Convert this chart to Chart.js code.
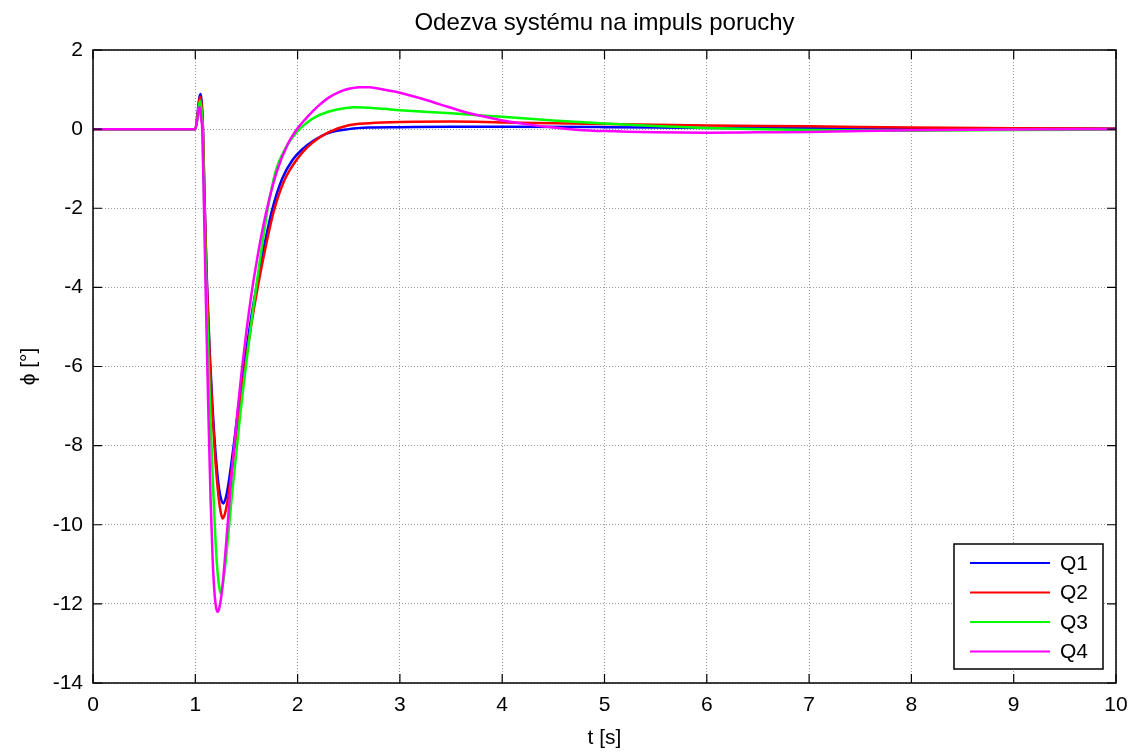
<!DOCTYPE html>
<html>
<head>
<meta charset="utf-8">
<script src="https://cdn.jsdelivr.net/npm/chart.js@4.4.0/dist/chart.umd.min.js"></script>
<style>
  html, body { margin: 0; padding: 0; background: #fff; }
  #wrap { width: 1138px; height: 753px; }
</style>
</head>
<body>
<div id="wrap"><canvas id="graf"></canvas></div>
<script>
// Odezva systému (čas [s], úhel [°])
const q1T = [0, 1.0, 1.02, 1.04, 1.053, 1.065, 1.075, 1.09, 1.11, 1.14, 1.17, 1.2, 1.23, 1.255, 1.275, 1.3, 1.325, 1.35, 1.38, 1.42, 1.46, 1.5, 1.55, 1.6, 1.67, 1.75, 1.85, 1.95, 2.05, 2.15, 2.3, 2.5, 2.7, 3, 3.5, 4, 5, 6, 7, 8, 9, 10];
const q1V = [0, 0, 0.35, 0.8, 0.89, 0.6, 0, -1.7, -3.6, -5.6, -7.1, -8.25, -9.05, -9.38, -9.46, -9.3, -8.95, -8.5, -7.9, -7.05, -6.3, -5.55, -4.7, -3.95, -3.0, -2.05, -1.25, -0.78, -0.5, -0.3, -0.1, 0, 0.04, 0.05, 0.06, 0.06, 0.05, 0.03, 0.02, 0.01, 0.01, 0.01];

const q2T = [0, 1.0, 1.02, 1.04, 1.052, 1.064, 1.075, 1.09, 1.11, 1.14, 1.17, 1.2, 1.23, 1.25, 1.268, 1.29, 1.315, 1.34, 1.37, 1.41, 1.45, 1.5, 1.55, 1.61, 1.69, 1.77, 1.87, 1.97, 2.05, 2.15, 2.3, 2.5, 2.7, 3, 3.5, 4, 5, 6, 7, 8, 9, 10];
const q2V = [0, 0, 0.3, 0.75, 0.82, 0.5, 0, -1.8, -3.7, -5.75, -7.3, -8.5, -9.35, -9.7, -9.84, -9.72, -9.4, -8.95, -8.35, -7.5, -6.7, -5.75, -4.9, -4.0, -2.95, -2.05, -1.3, -0.85, -0.58, -0.33, -0.08, 0.1, 0.15, 0.18, 0.19, 0.17, 0.13, 0.09, 0.07, 0.04, 0.02, 0.01];

const q3T = [0, 1.0, 1.02, 1.04, 1.05, 1.062, 1.072, 1.088, 1.11, 1.13, 1.15, 1.17, 1.19, 1.21, 1.23, 1.248, 1.27, 1.3, 1.33, 1.36, 1.4, 1.44, 1.48, 1.52, 1.56, 1.605, 1.655, 1.705, 1.75, 1.8, 1.9, 2.0, 2.1, 2.2, 2.3, 2.4, 2.55, 2.8, 3, 3.5, 4, 4.5, 5, 5.5, 6, 7, 8, 9, 10];
const q3V = [0, 0, 0.25, 0.65, 0.72, 0.45, 0, -2, -4.2, -5.9, -7.4, -8.8, -10.0, -10.95, -11.5, -11.74, -11.5, -10.85, -10.05, -9.2, -8.2, -7.2, -6.3, -5.45, -4.65, -3.8, -2.9, -2.05, -1.45, -0.95, -0.4, -0.05, 0.18, 0.34, 0.44, 0.5, 0.55, 0.52, 0.48, 0.4, 0.31, 0.22, 0.14, 0.08, 0.03, -0.02, -0.04, -0.02, -0.01];

const q4T = [0, 1.0, 1.02, 1.04, 1.05, 1.06, 1.068, 1.085, 1.1, 1.115, 1.13, 1.15, 1.17, 1.19, 1.205, 1.219, 1.235, 1.255, 1.28, 1.31, 1.34, 1.37, 1.41, 1.45, 1.5, 1.55, 1.6, 1.66, 1.725, 1.8, 1.9, 2.0, 2.1, 2.2, 2.3, 2.4, 2.5, 2.6, 2.7, 2.8, 3.0, 3.2, 3.4, 3.6, 3.8, 4.0, 4.25, 4.5, 4.75, 5, 5.5, 6, 6.5, 7, 8, 9, 10];
const q4V = [0, 0, 0.25, 0.55, 0.5, 0.2, 0, -2, -3.9, -5.7, -7.4, -9.4, -10.9, -11.8, -12.12, -12.2, -12.1, -11.8, -11.15, -10.2, -9.2, -8.3, -7.2, -6.2, -5.1, -4.15, -3.35, -2.5, -1.75, -1.05, -0.4, 0.02, 0.32, 0.58, 0.79, 0.93, 1.02, 1.06, 1.06, 1.02, 0.92, 0.78, 0.62, 0.46, 0.33, 0.22, 0.12, 0.04, -0.02, -0.05, -0.08, -0.09, -0.08, -0.07, -0.03, -0.01, 0];

const nazvy = ['Q1', 'Q2', 'Q3', 'Q4'];
const barvy = ['#0000ff', '#ff0000', '#00ff00', '#ff00ff'];

const xTicks = [0, 1, 2, 3, 4, 5, 6, 7, 8, 9, 10];
const yTicks = [2, 0, -2, -4, -6, -8, -10, -12, -14];

const FONT = 'Liberation Sans, Arial, sans-serif';

function body(t, v) {
  return t.map((x, i) => ({ x: x, y: v[i] }));
}

// rámeček os + ticky dovnitř (styl MATLAB)
const ramecek = {
  id: 'ramecek',
  afterDatasetsDraw(chart) {
    const { ctx, chartArea: a, scales } = chart;
    ctx.save();
    ctx.setLineDash([]);
    ctx.strokeStyle = '#000';
    ctx.lineWidth = 1.5;
    ctx.strokeRect(a.left, a.top, a.right - a.left, a.bottom - a.top);
    ctx.lineWidth = 1.2;
    const len = 9;
    ctx.beginPath();
    xTicks.forEach(t => {
      const px = scales.x.getPixelForValue(t);
      ctx.moveTo(px, a.bottom); ctx.lineTo(px, a.bottom - len);
      ctx.moveTo(px, a.top); ctx.lineTo(px, a.top + len);
    });
    yTicks.forEach(t => {
      const py = scales.y.getPixelForValue(t);
      ctx.moveTo(a.left, py); ctx.lineTo(a.left + len, py);
      ctx.moveTo(a.right, py); ctx.lineTo(a.right - len, py);
    });
    ctx.stroke();
    ctx.restore();
  },
  afterDraw(chart) {
    // legenda vpravo dole
    const { ctx, chartArea: a } = chart;
    const w = 149, h = 125;
    const x0 = a.right - 13 - w, y0 = a.bottom - 14 - h;
    ctx.save();
    ctx.fillStyle = '#fff';
    ctx.fillRect(x0, y0, w, h);
    ctx.strokeStyle = '#000';
    ctx.lineWidth = 1.5;
    ctx.strokeRect(x0, y0, w, h);
    ctx.font = '21px ' + FONT;
    ctx.textBaseline = 'middle';
    chart.data.datasets.forEach((ds, i) => {
      const y = y0 + 19 + i * 29.5;
      ctx.strokeStyle = ds.borderColor;
      ctx.lineWidth = 2;
      ctx.beginPath();
      ctx.moveTo(x0 + 16, y);
      ctx.lineTo(x0 + 96, y);
      ctx.stroke();
      ctx.fillStyle = '#000';
      ctx.fillText(ds.label, x0 + 106, y + 1);
    });
    ctx.restore();
  }
};

const ctx = document.getElementById('graf').getContext('2d');
new Chart(ctx, {
  type: 'line',
  data: {
    datasets: nazvy.map((n, i) => ({
      label: n,
      data: body([q1T, q2T, q3T, q4T][i], [q1V, q2V, q3V, q4V][i]),
      borderColor: barvy[i],
      backgroundColor: barvy[i],
      borderWidth: 2.5,
      pointRadius: 0,
      cubicInterpolationMode: 'monotone',
      order: 4 - i
    }))
  },
  options: {
    responsive: true,
    maintainAspectRatio: false,
    animation: false,
    layout: { padding: { left: 0, right: 22, top: 0, bottom: 0 } },
    plugins: {
      legend: { display: false },
      tooltip: { enabled: false },
      title: {
        display: true,
        fullSize: false,
        text: 'Odezva systému na impuls poruchy',
        color: '#000',
        font: { family: FONT, size: 24, weight: 'normal', lineHeight: 1.2 },
        padding: { top: 9, bottom: 12.2 }
      }
    },
    scales: {
      x: {
        type: 'linear',
        min: 0, max: 10,
        afterBuildTicks: s => { s.ticks = xTicks.map(v => ({ value: v })); },
        afterFit: s => { s.height = 70; },
        ticks: { color: '#000', padding: 10, font: { family: FONT, size: 21 }, maxRotation: 0 },
        grid: { color: '#9a9a9a', lineWidth: 1, drawTicks: false },
        border: { display: false, dash: [1, 2] },
        title: { display: true, text: 't [s]', color: '#000', font: { family: FONT, size: 21 }, padding: { top: 0, bottom: 2 } }
      },
      y: {
        type: 'linear',
        min: -14, max: 2,
        afterBuildTicks: s => { s.ticks = yTicks.map(v => ({ value: v })); },
        afterFit: s => { s.width = 93; },
        ticks: { color: '#000', padding: 10, font: { family: FONT, size: 21 } },
        grid: { color: '#9a9a9a', lineWidth: 1, drawTicks: false },
        border: { display: false, dash: [1, 2] },
        title: { display: true, text: 'ϕ [°]', color: '#000', font: { family: FONT, size: 21 }, padding: { top: 17, bottom: 0 } }
      }
    }
  },
  plugins: [ramecek]
});
</script>
</body>
</html>
